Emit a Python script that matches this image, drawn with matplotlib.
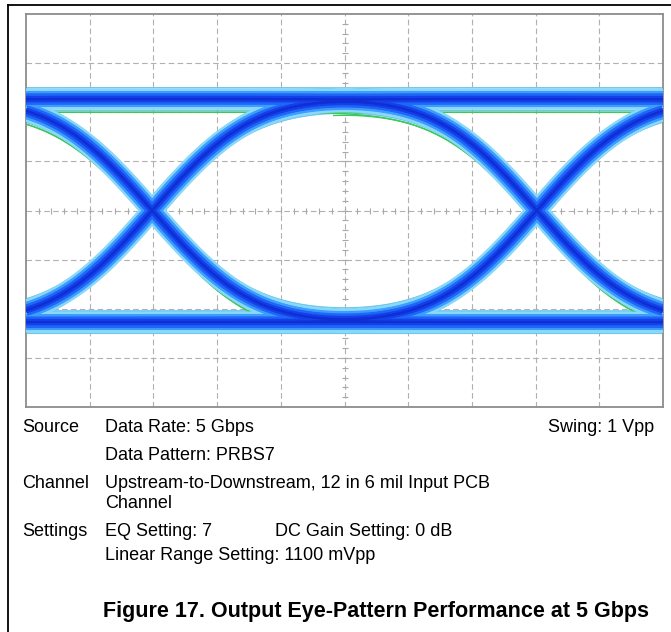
import numpy as np
import matplotlib
matplotlib.use("Agg")
import matplotlib.pyplot as plt
from matplotlib.lines import Line2D
from math import erf

# Eye diagram readings (screen divisions: 10 horizontal, 8 vertical)
n_xdiv, n_ydiv = 10, 8
high_level = 6.27
low_level = 1.73
crossings = [1.98, 8.02]          # crossing points of the two edges
edge_scale = 1.73                 # erf scale of an edge (div)
bit_patterns = [(a, b, c) for a in (0, 1) for b in (0, 1) for c in (0, 1)]

# persistence layers: (colour, linewidth)
layers = [
    ("#8ad8f8", 15.0),
    ("#3c9cff", 11.5),
    ("#1f66f6", 8.0),
    ("#1440ec", 4.5),
    ("#0f2fd2", 1.5),
]
green_offset = -0.27
cyan_offset = 0.23

# Table text below the eye
rows = [
    (22, 428, "Source"), (105, 428, "Data Rate: 5 Gbps"),
    (105, 455, "Data Pattern: PRBS7"),
    (22, 483, "Channel"), (105, 483, "Upstream-to-Downstream, 12 in 6 mil Input PCB"),
    (105, 503, "Channel"),
    (22, 531, "Settings"), (105, 531, "EQ Setting: 7"), (275, 531, "DC Gain Setting: 0 dB"),
    (105, 556, "Linear Range Setting: 1100 mVpp"),
]
right_note = (654, 428, "Swing: 1 Vpp")
caption = "Figure 17. Output Eye-Pattern Performance at 5 Gbps"

W, H = 671, 632
plt.rcParams['font.family'] = ['Liberation Sans', 'DejaVu Sans']
fig = plt.figure(figsize=(W / 100, H / 100), dpi=100)

def fx(px):
    return px / W

def fy(py):
    return 1 - py / H

# outer frame (top and left only)
fig.add_artist(Line2D([fx(8), 1], [fy(5), fy(5)], color="black", lw=1.3))
fig.add_artist(Line2D([fx(8), fx(8)], [fy(5), 0], color="black", lw=1.3))

ax = fig.add_axes([fx(26), fy(407), fx(663) - fx(26), (407 - 14) / H])
ax.set_xlim(0, n_xdiv)
ax.set_ylim(0, n_ydiv)
ax.set_xticks([])
ax.set_yticks([])
for s in ax.spines.values():
    s.set_color("#8c8c8c")
    s.set_linewidth(1.3)

# graticule
for gx in range(1, n_xdiv):
    ax.axvline(gx, color="#b0b0b0", lw=0.8, ls=(0, (5, 3)), zorder=1)
for gy in range(1, n_ydiv):
    ax.axhline(gy, color="#b0b0b0", lw=0.8, ls=(0, (5, 3)), zorder=1)
mx = np.arange(0.2, n_xdiv, 0.2)
ax.plot(mx, np.full_like(mx, n_ydiv / 2), ls="none", marker="|", ms=4,
        color="#a8a8a8", mew=0.8, zorder=1)
my = np.arange(0.2, n_ydiv, 0.2)
ax.plot(np.full_like(my, n_xdiv / 2), my, ls="none", marker="_", ms=4,
        color="#a8a8a8", mew=0.8, zorder=1)

# eye traces
ui = crossings[1] - crossings[0]
edges = [crossings[0] - ui, crossings[0], crossings[1], crossings[1] + ui]
x = np.linspace(0, n_xdiv, 800)
verf = np.vectorize(erf)

def step(t):
    return 0.5 * (1 + verf((x - t) / edge_scale))

traces = []
for pat in bit_patterns:
    lvl = np.zeros_like(x)
    for k, bit in enumerate(pat):
        if bit:
            lvl += step(edges[k]) - step(edges[k + 1])
    traces.append(low_level + (high_level - low_level) * lvl)

for tr in traces:
    slope = np.gradient(tr, x)
    # thin green fringe below falling edges and the high rail
    g = np.where((slope < 0.05) & (tr > low_level + 0.4), tr + green_offset, np.nan)
    ax.plot(x, g, color="#3cc85a", lw=1.0, zorder=2)
    ax.plot(x, tr + cyan_offset, color="#6cc8f0", lw=0.8, zorder=2)
    ax.plot(x, tr - cyan_offset, color="#6cc8f0", lw=0.8, zorder=2)

for z, (col, lw) in enumerate(layers):
    for tr in traces:
        ax.plot(x, tr, color=col, lw=lw, solid_capstyle="butt", zorder=3 + z)

fs = 13
for px, py, t in rows:
    fig.text(fx(px), fy(py), t, fontsize=fs, ha="left", va="center")
fig.text(fx(right_note[0]), fy(right_note[1]), right_note[2], fontsize=fs,
         ha="right", va="center")
fig.text(fx(376), fy(611), caption, fontsize=15.5, fontweight="bold",
         ha="center", va="center")

fig.savefig("out.png", dpi=100)
